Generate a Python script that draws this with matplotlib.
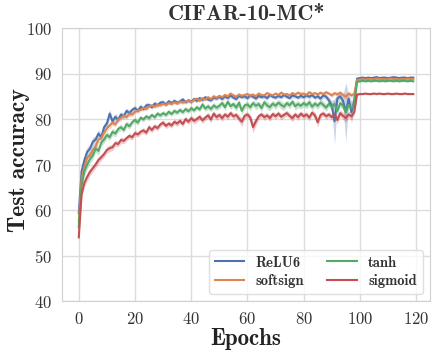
import numpy as np
import matplotlib
matplotlib.use("Agg")
import matplotlib.pyplot as plt
from matplotlib.font_manager import FontProperties

# test accuracy per epoch (mean over runs) and spread
labels = ["ReLU6", "softsign", "tanh", "sigmoid"]
colors = ["#4c72b0", "#dd8452", "#55a868", "#c44e52"]

relu6 = [59.3, 68.5, 71.0, 72.8, 73.5, 75.0, 75.5, 76.8, 76.0, 78.2,
         79.0, 81.2, 79.5, 80.5, 79.8, 81.0, 80.6, 81.8, 81.3, 82.0,
         82.4, 81.8, 82.7, 82.2, 83.0, 83.1, 82.6, 83.4, 83.0, 83.6,
         83.7, 83.2, 83.9, 83.5, 84.0, 83.6, 83.9, 84.3, 83.7, 84.1,
         83.8, 84.4, 84.0, 84.6, 84.2, 84.8, 84.3, 84.1, 84.7, 84.5,
         84.9, 84.4, 85.0, 84.6, 85.2, 84.7, 84.4, 85.1, 84.8, 85.0,
         84.6, 85.2, 84.9, 84.5, 85.1, 84.8, 85.0, 84.6, 85.3, 84.9,
         84.7, 85.1, 84.8, 85.3, 84.9, 84.6, 85.2, 85.0, 84.7, 85.1,
         84.8, 85.2, 84.9, 85.3, 84.7, 85.0, 84.5, 85.2, 84.9, 84.1,
         83.0, 79.5, 84.5, 85.0, 84.0, 81.5, 84.5, 81.5, 84.0,
         88.9, 89.0, 89.1, 89.0, 89.1, 89.0, 89.1, 89.2, 89.0, 89.1, 89.1,
         89.0, 89.1, 89.2, 89.1, 89.0, 89.1, 89.1, 89.0, 89.1, 89.1]
relu6_sd = [1.0, 1.2, 1.0, 1.1, 0.9, 1.0, 0.8, 0.9, 0.8, 0.9,
            0.8, 0.9, 0.7, 0.8, 0.7, 0.6, 0.7, 0.6, 0.7, 0.6,
            0.6, 0.5, 0.6, 0.5, 0.6, 0.5, 0.5, 0.6, 0.5, 0.5,
            0.5, 0.4, 0.5, 0.4, 0.5, 0.4, 0.5, 0.5, 0.4, 0.5,
            0.4, 0.5, 0.4, 0.5, 0.4, 0.5, 0.4, 0.4, 0.5, 0.4,
            0.5, 0.4, 0.5, 0.4, 0.5, 0.4, 0.4, 0.5, 0.4, 0.5,
            0.4, 0.5, 0.4, 0.4, 0.5, 0.4, 0.5, 0.4, 0.5, 0.4,
            0.4, 0.5, 0.4, 0.5, 0.4, 0.4, 0.5, 0.4, 0.4, 0.5,
            0.4, 0.5, 0.4, 0.5, 0.4, 0.5, 0.6, 0.5, 0.6, 0.8,
            1.0, 5.0, 1.0, 0.6, 1.2, 6.5, 0.8, 2.5, 1.2,
            0.3, 0.3, 0.3, 0.3, 0.3, 0.3, 0.3, 0.3, 0.3, 0.3, 0.3,
            0.3, 0.3, 0.3, 0.3, 0.3, 0.3, 0.3, 0.3, 0.3, 0.3]

softsign = [57.5, 67.0, 69.5, 71.5, 72.0, 73.2, 74.0, 75.5, 75.8, 77.0,
            78.0, 78.6, 79.2, 78.8, 79.9, 80.2, 80.8, 80.4, 81.2, 81.0,
            81.6, 81.9, 82.0, 82.5, 82.2, 82.8, 83.0, 82.7, 83.2, 83.0,
            83.4, 83.1, 83.5, 83.3, 83.7, 83.4, 83.9, 83.6, 83.8, 84.1,
            83.8, 84.2, 84.5, 84.0, 84.6, 84.3, 84.8, 84.4, 85.0, 84.7,
            85.1, 84.8, 85.3, 85.0, 85.6, 85.2, 84.9, 85.4, 85.1, 85.3,
            85.5, 85.1, 85.4, 85.0, 85.6, 85.3, 85.2, 85.7, 85.4, 85.2,
            85.6, 85.3, 85.8, 85.4, 85.5, 85.2, 85.7, 85.4, 85.8, 85.5,
            85.6, 85.3, 85.9, 85.5, 85.7, 85.4, 85.8, 85.5, 85.9, 85.6,
            85.2, 85.7, 85.4, 85.8, 85.3, 84.9, 85.6, 85.2, 85.5,
            88.6, 88.7, 88.8, 88.7, 88.8, 88.8, 88.7, 88.9, 88.8, 88.8, 88.7,
            88.8, 88.9, 88.8, 88.8, 88.7, 88.8, 88.8, 88.9, 88.8, 88.8]
softsign_sd = [0.9, 1.0, 0.9, 0.9, 0.8, 0.8, 0.7, 0.8, 0.7, 0.7,
               0.6, 0.7, 0.6, 0.6, 0.5, 0.6, 0.5, 0.5, 0.5, 0.5,
               0.4, 0.5, 0.4, 0.4, 0.5, 0.4, 0.4, 0.4, 0.4, 0.4,
               0.4, 0.4, 0.3, 0.4, 0.4, 0.3, 0.4, 0.4, 0.3, 0.4,
               0.4, 0.3, 0.4, 0.4, 0.3, 0.4, 0.4, 0.3, 0.4, 0.4,
               0.3, 0.4, 0.4, 0.3, 0.4, 0.4, 0.3, 0.4, 0.4, 0.3,
               0.4, 0.4, 0.3, 0.4, 0.4, 0.3, 0.4, 0.4, 0.3, 0.4,
               0.4, 0.3, 0.4, 0.4, 0.3, 0.4, 0.4, 0.3, 0.4, 0.4,
               0.3, 0.4, 0.4, 0.3, 0.4, 0.4, 0.3, 0.4, 0.4, 0.3,
               0.5, 0.4, 0.5, 0.4, 0.6, 0.7, 0.5, 0.6, 0.5,
               0.2, 0.2, 0.2, 0.2, 0.2, 0.2, 0.2, 0.2, 0.2, 0.2, 0.2,
               0.2, 0.2, 0.2, 0.2, 0.2, 0.2, 0.2, 0.2, 0.2, 0.2]

tanh = [56.2, 65.5, 68.5, 70.0, 71.2, 72.0, 73.5, 73.0, 74.8, 75.5,
        76.5, 76.0, 77.2, 76.8, 77.8, 78.2, 77.6, 78.9, 78.4, 79.3,
        79.8, 79.2, 80.3, 79.9, 80.6, 80.2, 80.9, 80.4, 81.2, 80.8,
        81.3, 80.9, 81.6, 81.1, 81.8, 81.4, 82.0, 81.5, 82.2, 81.7,
        82.4, 81.9, 82.6, 82.1, 83.2, 82.3, 82.8, 82.2, 83.0, 82.5,
        82.9, 83.5, 82.6, 83.8, 82.8, 83.3, 82.5, 83.6, 81.8, 83.0,
        83.2, 82.6, 83.5, 82.9, 83.3, 82.4, 83.7, 83.0, 82.6, 83.4,
        82.9, 83.6, 83.1, 82.7, 83.5, 83.0, 83.8, 82.8, 83.3, 82.9,
        83.5, 83.0, 83.7, 82.7, 83.4, 82.9, 83.6, 83.1, 82.5, 83.4,
        82.6, 83.3, 81.8, 83.5, 82.9, 81.5, 83.2, 82.4, 83.3,
        88.2, 88.3, 88.4, 88.3, 88.4, 88.3, 88.4, 88.4, 88.3, 88.4, 88.3,
        88.4, 88.4, 88.3, 88.4, 88.3, 88.4, 88.4, 88.3, 88.4, 88.3]
tanh_sd = [1.0, 1.1, 1.0, 1.0, 0.9, 0.9, 0.8, 0.9, 0.8, 0.8,
           0.8, 0.7, 0.8, 0.7, 0.7, 0.7, 0.6, 0.7, 0.6, 0.6,
           0.6, 0.6, 0.5, 0.6, 0.5, 0.6, 0.5, 0.5, 0.6, 0.5,
           0.6, 0.5, 0.6, 0.5, 0.6, 0.5, 0.6, 0.5, 0.6, 0.5,
           0.6, 0.5, 0.6, 0.5, 0.7, 0.6, 0.7, 0.6, 0.7, 0.6,
           0.7, 0.6, 0.8, 0.6, 0.7, 0.6, 0.8, 0.7, 0.9, 0.7,
           0.7, 0.8, 0.7, 0.9, 0.7, 0.8, 0.7, 0.9, 0.8, 0.7,
           0.8, 0.7, 0.9, 0.8, 0.7, 0.8, 0.7, 0.9, 0.8, 0.7,
           0.8, 0.7, 0.9, 0.8, 0.7, 0.8, 0.7, 0.9, 0.8, 0.7,
           0.9, 0.8, 1.0, 0.8, 0.9, 1.1, 0.8, 1.0, 0.8,
           0.2, 0.2, 0.2, 0.2, 0.2, 0.2, 0.2, 0.2, 0.2, 0.2, 0.2,
           0.2, 0.2, 0.2, 0.2, 0.2, 0.2, 0.2, 0.2, 0.2, 0.2]

sigmoid = [54.0, 63.5, 66.0, 67.3, 68.4, 69.2, 70.0, 71.0, 71.6, 72.3,
           73.2, 73.6, 73.8, 74.7, 74.5, 75.4, 75.2, 75.8, 76.3, 76.0,
           76.9, 76.6, 77.2, 77.5, 77.0, 78.2, 77.6, 78.4, 78.0, 78.8,
           79.2, 78.5, 79.0, 78.6, 79.4, 79.0, 79.6, 78.9, 80.0, 79.4,
           80.2, 79.6, 80.0, 80.5, 79.7, 80.3, 80.8, 79.9, 81.2, 80.4,
           80.9, 80.2, 81.0, 80.5, 81.3, 80.6, 80.9, 80.1, 79.4, 80.7,
           81.0, 80.3, 78.2, 79.5, 80.6, 81.0, 80.4, 80.8, 80.2, 81.1,
           80.6, 81.2, 80.5, 80.9, 81.3, 80.7, 80.2, 81.0, 80.4, 81.2,
           80.6, 81.0, 80.3, 81.4, 80.8, 79.3, 80.9, 81.2, 80.6, 81.0,
           80.4, 81.1, 79.8, 81.3, 80.7, 80.2, 81.0, 80.6, 81.5,
           85.4, 85.5, 85.5, 85.6, 85.5, 85.5, 85.6, 85.5, 85.6, 85.5, 85.5,
           85.6, 85.5, 85.5, 85.6, 85.5, 85.5, 85.6, 85.5, 85.5, 85.5]
sigmoid_sd = [0.9, 1.0, 0.9, 0.9, 0.8, 0.8, 0.8, 0.8, 0.7, 0.7,
              0.7, 0.7, 0.7, 0.7, 0.6, 0.7, 0.6, 0.6, 0.6, 0.6,
              0.6, 0.6, 0.6, 0.6, 0.6, 0.7, 0.6, 0.6, 0.6, 0.6,
              0.6, 0.6, 0.6, 0.6, 0.6, 0.6, 0.6, 0.6, 0.6, 0.6,
              0.6, 0.7, 0.6, 0.6, 0.7, 0.6, 0.7, 0.7, 0.6, 0.7,
              0.6, 0.7, 0.6, 0.7, 0.6, 0.7, 0.6, 0.8, 1.0, 0.7,
              0.6, 0.8, 1.2, 0.9, 0.7, 0.6, 0.7, 0.6, 0.7, 0.6,
              0.7, 0.6, 0.7, 0.6, 0.7, 0.6, 0.8, 0.6, 0.7, 0.6,
              0.7, 0.6, 0.7, 0.6, 0.8, 1.0, 0.7, 0.6, 0.7, 0.6,
              0.7, 0.6, 0.9, 0.7, 0.8, 0.9, 0.7, 0.8, 0.6,
              0.2, 0.2, 0.2, 0.2, 0.2, 0.2, 0.2, 0.2, 0.2, 0.2, 0.2,
              0.2, 0.2, 0.2, 0.2, 0.2, 0.2, 0.2, 0.2, 0.2, 0.2]

means = [relu6, softsign, tanh, sigmoid]
sds = [relu6_sd, softsign_sd, tanh_sd, sigmoid_sd]

plt.rcParams['axes.formatter.use_mathtext'] = True
rm = FontProperties(family='cmr10', size=12)

fig = plt.figure(figsize=(4.37, 3.55), dpi=100)
ax = fig.add_axes([0.142, 0.152, 0.842, 0.769])

for m, s, lab, c in zip(means, sds, labels, colors):
    m = np.array(m)
    s = np.array(s)
    ep = np.arange(len(m))
    ax.fill_between(ep, m - s, m + s, color=c, alpha=0.3, lw=0)
    ax.plot(ep, m, color=c, lw=1.5, label=lab)

ax.set_ylim(40, 100)
ax.set_xticks([0, 20, 40, 60, 80, 100, 120])
ax.set_yticks([40, 50, 60, 70, 80, 90, 100])
ax.grid(True, color='#dcdcdc', lw=1.0)
ax.set_axisbelow(True)
for sp in ax.spines.values():
    sp.set_color('#d0d0d0')
ax.tick_params(length=0, pad=7, colors='#333333')
for t in ax.get_xticklabels() + ax.get_yticklabels():
    t.set_fontproperties(rm)

ax.set_title('CIFAR-10-MC*', fontproperties=FontProperties(family='cmb10', size=16),
             color='#333333', pad=6)
ax.set_xlabel('Epochs', fontproperties=FontProperties(family='cmb10', size=16.5),
              color='#222222', labelpad=1)
ax.set_ylabel('Test accuracy', fontproperties=FontProperties(family='cmb10', size=17),
              color='#222222')
ax.yaxis.set_label_coords(-0.087, 0.515)

leg = ax.legend(ncol=2, loc='lower right', prop=FontProperties(family='cmb10', size=10.5),
                frameon=True, handlelength=2.0, columnspacing=1.6,
                borderpad=0.4, labelspacing=0.3, fancybox=True)
leg.get_frame().set_edgecolor('#d8d8d8')
for t in leg.get_texts():
    t.set_color('#333333')

fig.savefig('out.png', dpi=100)
